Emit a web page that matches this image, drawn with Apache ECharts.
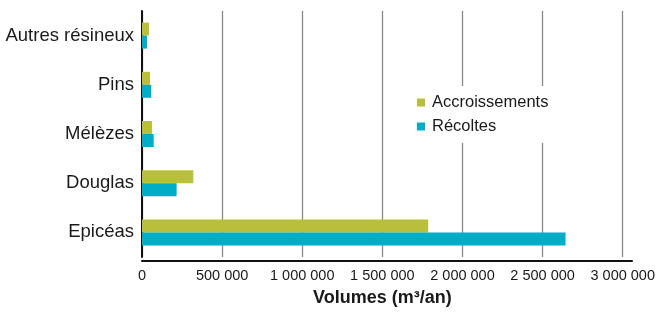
<!DOCTYPE html>
<html>
<head>
<meta charset="utf-8">
<script src="https://cdn.jsdelivr.net/npm/echarts@6/dist/echarts.min.js"></script>
<style>
  html, body { margin: 0; padding: 0; background: #fff; }
  #chart { width: 658px; height: 312px; }
</style>
</head>
<body>
<div id="chart"></div>
<script>
// categories, bottom to top
var categories = ['Epicéas', 'Douglas', 'Mélèzes', 'Pins', 'Autres résineux'];
var accroissements = [1786000, 320000, 62000, 50000, 44000];
var recoltes = [2643000, 216000, 73000, 58000, 31000];
var xTicks = [0, 500000, 1000000, 1500000, 2000000, 2500000, 3000000];

var font = '"Liberation Sans", Arial, Helvetica, sans-serif';

// 1 000 000 style labels
function fmt(v) {
    return String(v).replace(/\B(?=(\d{3})+(?!\d))/g, ' ');
}

var myChart = echarts.init(document.getElementById('chart'));
myChart.setOption({
    animation: false,
    textStyle: { fontFamily: font },
    legend: {
        orient: 'vertical',
        left: 411,
        top: 86,
        padding: [8, 8, 8, 6],
        backgroundColor: '#fff',
        itemWidth: 8,
        itemHeight: 8,
        itemGap: 7,
        icon: 'rect',
        textStyle: { fontSize: 16.5, color: '#1a1a1a', fontFamily: font, padding: [0, 0, 0, 2] },
        data: ['Accroissements', 'Récoltes']
    },
    grid: [
        { left: 142, right: 35, top: 11, bottom: 51, containLabel: false },
        // only used to draw the axis line a bit past the last tick
        { left: 142, right: 26, top: 11, bottom: 51, containLabel: false }
    ],
    xAxis: [
        {
            type: 'value',
            min: xTicks[0],
            max: xTicks[xTicks.length - 1],
            interval: 500000,
            name: 'Volumes (m³/an)',
            nameLocation: 'middle',
            nameGap: 32,
            nameTextStyle: { fontSize: 18, fontWeight: 'bold', color: '#1a1a1a', fontFamily: font },
            axisLine: { show: false },
            axisTick: { show: false },
            axisLabel: { fontSize: 14.5, color: '#1a1a1a', margin: 11, fontFamily: font, formatter: fmt },
            splitLine: { show: true, lineStyle: { color: '#888', width: 1.3 } }
        },
        {
            type: 'value',
            gridIndex: 1,
            min: 0,
            max: 1,
            axisLine: { show: true, lineStyle: { color: '#111', width: 2 } },
            axisTick: { show: false },
            axisLabel: { show: false },
            splitLine: { show: false }
        }
    ],
    yAxis: [
        {
            type: 'category',
            data: categories,
            axisLine: { show: true, lineStyle: { color: '#111', width: 2 } },
            axisTick: { show: false },
            axisLabel: { fontSize: 18.5, color: '#1a1a1a', margin: 8, fontFamily: font }
        },
        {
            type: 'category',
            gridIndex: 1,
            data: categories,
            show: false
        }
    ],
    series: [
        {
            name: 'Accroissements',
            type: 'bar',
            barWidth: 13,
            barGap: '0%',
            itemStyle: { color: '#b9bf3b' },
            data: accroissements
        },
        {
            name: 'Récoltes',
            type: 'bar',
            barWidth: 13,
            barGap: '0%',
            itemStyle: { color: '#00adc6' },
            data: recoltes
        }
    ]
});
</script>
</body>
</html>
